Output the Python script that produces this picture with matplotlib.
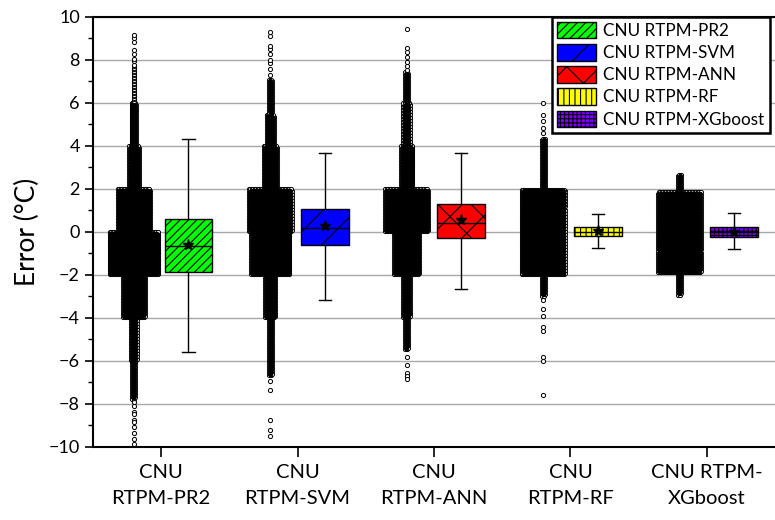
import numpy as np
import matplotlib
matplotlib.use('Agg')
import matplotlib.pyplot as plt
from matplotlib.patches import Patch

plt.rcParams['font.family'] = ['Lato', 'DejaVu Sans']
plt.rcParams['hatch.linewidth'] = 0.8

names = ['CNU RTPM-PR2', 'CNU RTPM-SVM', 'CNU RTPM-ANN', 'CNU RTPM-RF', 'CNU RTPM-XGboost']
tick_labels = ['CNU\nRTPM-PR2', 'CNU\nRTPM-SVM', 'CNU\nRTPM-ANN', 'CNU\nRTPM-RF', 'CNU RTPM-\nXGboost']
colors = ['#00ff00', '#0000ff', '#ff0000', '#ffff00', '#8000ff']
hatches = ['////', '/', 'x', '|||', '++++']

# box statistics
whislo = [-5.58, -3.16, -2.67, -0.76, -0.80]
q1 = [-1.88, -0.62, -0.29, -0.17, -0.22]
med = [-0.65, 0.17, 0.43, 0.02, 0.00]
q3 = [0.59, 1.08, 1.29, 0.22, 0.23]
whishi = [4.31, 3.66, 3.66, 0.82, 0.88]
means = [-0.62, 0.30, 0.58, 0.04, 0.02]

# point clouds: dense bands (y from, y to, band width) and the sparse tail points
pr2_bands = [(-7.8, -6.0, 0.03), (-6.0, -4.0, 0.05), (-4.0, -2.0, 0.17), (-2.0, 0.0, 0.36),
             (0.0, 2.0, 0.24), (2.0, 4.0, 0.075), (4.0, 6.0, 0.045), (6.0, 7.8, 0.02)]
pr2_tail = [7.95, 8.05, 8.3, 8.45, 8.85, 9.0, 9.15,
            -7.9, -8.1, -8.35, -8.45, -8.75, -8.85, -9.05, -9.35, -9.65, -9.85]

svm_bands = [(-6.7, -4.0, 0.035), (-4.0, -2.0, 0.075), (-2.0, 0.0, 0.285), (0.0, 2.0, 0.315),
             (2.0, 4.0, 0.10), (4.0, 5.5, 0.06), (5.5, 7.1, 0.03)]
svm_tail = [7.3, 7.6, 7.85, 8.0, 8.3, 8.5, 8.65, 9.1, 9.3,
            -6.95, -7.35, -8.75, -9.2, -9.5]

ann_bands = [(-5.5, -4.0, 0.035), (-4.0, -2.0, 0.055), (-2.0, 0.0, 0.19), (0.0, 2.0, 0.32),
             (2.0, 4.0, 0.085), (4.0, 6.0, 0.05), (6.0, 7.5, 0.03)]
ann_tail = [7.55, 7.7, 7.9, 8.15, 8.35, 8.55, 9.45,
            -5.8, -6.2, -6.55, -6.7, -6.85]

rf_bands = [(-3.0, -2.0, 0.035), (-2.0, 2.0, 0.315), (2.0, 4.4, 0.035)]
rf_tail = [4.6, 4.85, 5.15, 5.45, 6.0,
           -3.15, -3.6, -3.9, -4.4, -4.6, -5.8, -6.0, -7.6]

xgb_bands = [(-2.95, -1.9, 0.03), (-1.9, 1.85, 0.32), (1.85, 2.7, 0.03)]
xgb_tail = []

all_bands = [pr2_bands, svm_bands, ann_bands, rf_bands, xgb_bands]
all_tails = [pr2_tail, svm_tail, ann_tail, rf_tail, xgb_tail]


def half_width(bands, y):
    for y0, y1, w in bands:
        if y0 <= y < y1:
            return w / 2
    return 0.0


def swarm_points(xc, bands, tail, dx=0.011, dy=0.07):
    # pack each band with a staggered grid of markers, like a beeswarm;
    # points hidden inside the cloud are split from the ones on its rim
    inner_x, inner_y, rim_x, rim_y = [], [], [], []
    for y0, y1, w in bands:
        step = dx if w >= 0.06 else 0.014
        rows = np.arange(y0 + dy / 2, y1, dy)
        ncol = max(1, int(round(w / step)))
        for i, yy in enumerate(rows):
            off = (np.arange(ncol) - (ncol - 1) / 2) * step
            if ncol > 1:
                off = off + (i % 2 - 0.5) * step / 2
            for o in off:
                lim = min(half_width(bands, yy + dy), half_width(bands, yy - dy), w / 2)
                if ncol > 1 and abs(o) + 0.6 * step < lim:
                    inner_x.append(xc + o)
                    inner_y.append(yy)
                else:
                    rim_x.append(xc + o)
                    rim_y.append(yy)
    rim_x.extend([xc] * len(tail))
    rim_y.extend(tail)
    return inner_x, inner_y, rim_x, rim_y


fig = plt.figure(figsize=(7.75, 5.2), dpi=100)
ax = fig.add_axes([0.12, 0.1404, 0.88, 0.827])

pos = np.arange(1, 6)
for i in range(5):
    ix, iy, rx, ry = swarm_points(pos[i] - 0.2, all_bands[i], all_tails[i])
    ax.plot(rx, ry, 'o', ms=3.0, mfc='white', mec='black', mew=0.7, zorder=2)
    ax.plot(ix, iy, 'o', ms=3.0, mfc='black', mec='black', mew=0.7, zorder=2)

stats = []
for i in range(5):
    stats.append({'whislo': whislo[i], 'q1': q1[i], 'med': med[i], 'q3': q3[i],
                  'whishi': whishi[i], 'mean': means[i], 'fliers': []})

bp = ax.bxp(stats, positions=pos + 0.2, widths=0.35, patch_artist=True, showmeans=True,
            showfliers=False, capwidths=0.09, manage_ticks=False,
            medianprops=dict(color='black', lw=1.0),
            whiskerprops=dict(color='black', lw=1.0),
            capprops=dict(color='black', lw=1.0),
            meanprops=dict(marker='*', markerfacecolor='black', markeredgecolor='black', markersize=8),
            boxprops=dict(edgecolor='black', lw=1.0))
for patch, c, h in zip(bp['boxes'], colors, hatches):
    patch.set_facecolor(c)
    patch.set_hatch(h)
    patch.set_zorder(3)
for k in ['medians', 'means', 'whiskers', 'caps']:
    for a in bp[k]:
        a.set_zorder(4)

ax.set_xlim(0.5, 5.5)
ax.set_ylim(-10, 10)
ax.set_yticks(np.arange(-10, 11, 2))
ax.set_yticks(np.arange(-9, 10, 2), minor=True)
ax.set_xticks(pos)
ax.set_xticklabels(tick_labels, fontsize=14.5, linespacing=1.7)
ax.tick_params(axis='y', labelsize=13, direction='out', length=6, width=1.2)
ax.tick_params(axis='y', which='minor', direction='out', length=3.5, width=1.0)
ax.tick_params(axis='x', direction='out', length=7, width=1.2, pad=5)
ax.yaxis.grid(True, color='#a8a8a8', lw=1.0)
ax.set_axisbelow(True)
ax.set_ylabel('Error (°C)', fontsize=19, labelpad=6)

for s in ['left', 'bottom', 'top']:
    ax.spines[s].set_linewidth(1.5)
ax.spines['right'].set_visible(False)

handles = [Patch(facecolor=c, edgecolor='black', hatch=h, lw=1.0) for c, h in zip(colors, hatches)]
leg = ax.legend(handles, names, loc='upper right', bbox_to_anchor=(0.992, 1.0), borderaxespad=0,
                fontsize=12.3, handlelength=2.3, handleheight=1.1, labelspacing=0.3,
                handletextpad=0.4, borderpad=0.3, fancybox=False, framealpha=1)
leg.get_frame().set_edgecolor('black')
leg.get_frame().set_linewidth(1.8)
leg.set_zorder(5)

fig.savefig('out.png', dpi=100)
